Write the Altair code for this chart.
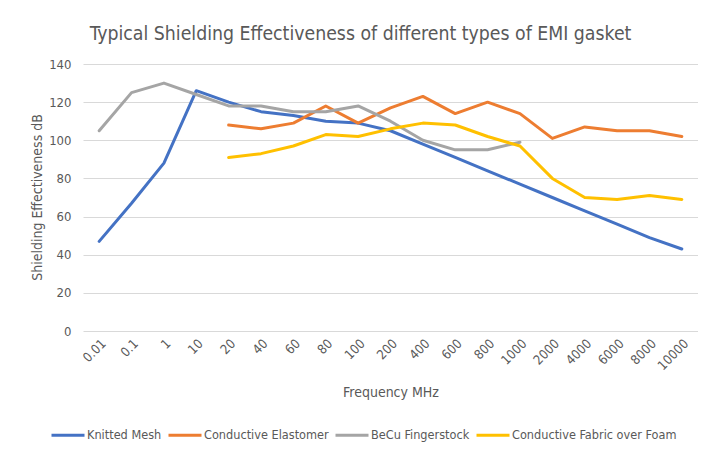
import altair as alt
import pandas as pd

freqs = ["0.01", "0.1", "1", "10", "20", "40", "60", "80", "100", "200", "400",
         "600", "800", "1000", "2000", "4000", "6000", "8000", "10000"]
knitted_mesh = [47, 67, 88, 126, 120, 115, 113, 110, 109, 105, 98, 91, 84, 77, 70, 63, 56, 49, 43]
conductive_elastomer = [None, None, None, None, 108, 106, 109, 118, 109, 117, 123, 114, 120, 114, 101, 107, 105, 105, 102]
becu_fingerstock = [105, 125, 130, 124, 118, 118, 115, 115, 118, 110, 100, 95, 95, 99, None, None, None, None, None]
fabric_over_foam = [None, None, None, None, 91, 93, 97, 103, 102, 106, 109, 108, 102, 97, 80, 70, 69, 71, 69]

series = ["Knitted Mesh", "Conductive Elastomer", "BeCu Fingerstock", "Conductive Fabric over Foam"]
colors = ["#4472C4", "#ED7D31", "#A5A5A5", "#FFC000"]

rows = []
for name, vals in zip(series, [knitted_mesh, conductive_elastomer, becu_fingerstock, fabric_over_foam]):
    for f, v in zip(freqs, vals):
        if v is not None:
            rows.append({"freq": f, "se": v, "series": name})
df = pd.DataFrame(rows)

FONT = "Liberation Sans Narrow, DejaVu Sans Condensed, Roboto, sans-serif"
TXT = "#595959"

chart = alt.Chart(df).mark_line(strokeWidth=3, strokeCap="round", strokeJoin="round").encode(
    x=alt.X("freq:N", sort=freqs, scale=alt.Scale(type="point", padding=0.5),
            axis=alt.Axis(title="Frequency MHz", labelAngle=-45, ticks=False, domain=False,
                          grid=False, labelPadding=6, labelFontSize=13, labelColor=TXT,
                          titleFontSize=14, titleColor=TXT, titleFontWeight="normal",
                          titleY=61, titleBaseline="middle")),
    y=alt.Y("se:Q", scale=alt.Scale(domain=[0, 140], nice=False),
            axis=alt.Axis(title="Shielding Effectiveness dB", values=list(range(0, 141, 20)),
                          ticks=False, domain=False, grid=True, gridColor="#D9D9D9",
                          labelPadding=12, labelFontSize=13, labelColor=TXT,
                          titleFontSize=14, titleColor=TXT, titleFontWeight="normal",
                          titleX=-46, titleY=133, titleBaseline="middle", titleAlign="center")),
    color=alt.Color("series:N", sort=series,
                    scale=alt.Scale(domain=series, range=colors),
                    legend=alt.Legend(title=None, orient="none", direction="horizontal",
                                      legendX=-33, legendY=353, symbolType="stroke",
                                      symbolSize=1089, symbolStrokeWidth=3, labelOffset=1,
                                      columnPadding=0, labelFontSize=12.6, labelColor=TXT,
                                      labelLimit=300)),
).properties(
    width=615, height=267,
    title=alt.TitleParams("Typical Shielding Effectiveness of different types of EMI gasket",
                          fontSize=19.3, fontWeight="normal", color=TXT, anchor="middle",
                          dx=-30, offset=14),
    autosize=alt.AutoSizeParams(type="none"),
    padding={"left": 75, "top": 56, "right": 0, "bottom": 114},
).configure(font=FONT).configure_view(stroke=None)

chart.save("out.html", embed_options={"renderer": "svg", "actions": False})
